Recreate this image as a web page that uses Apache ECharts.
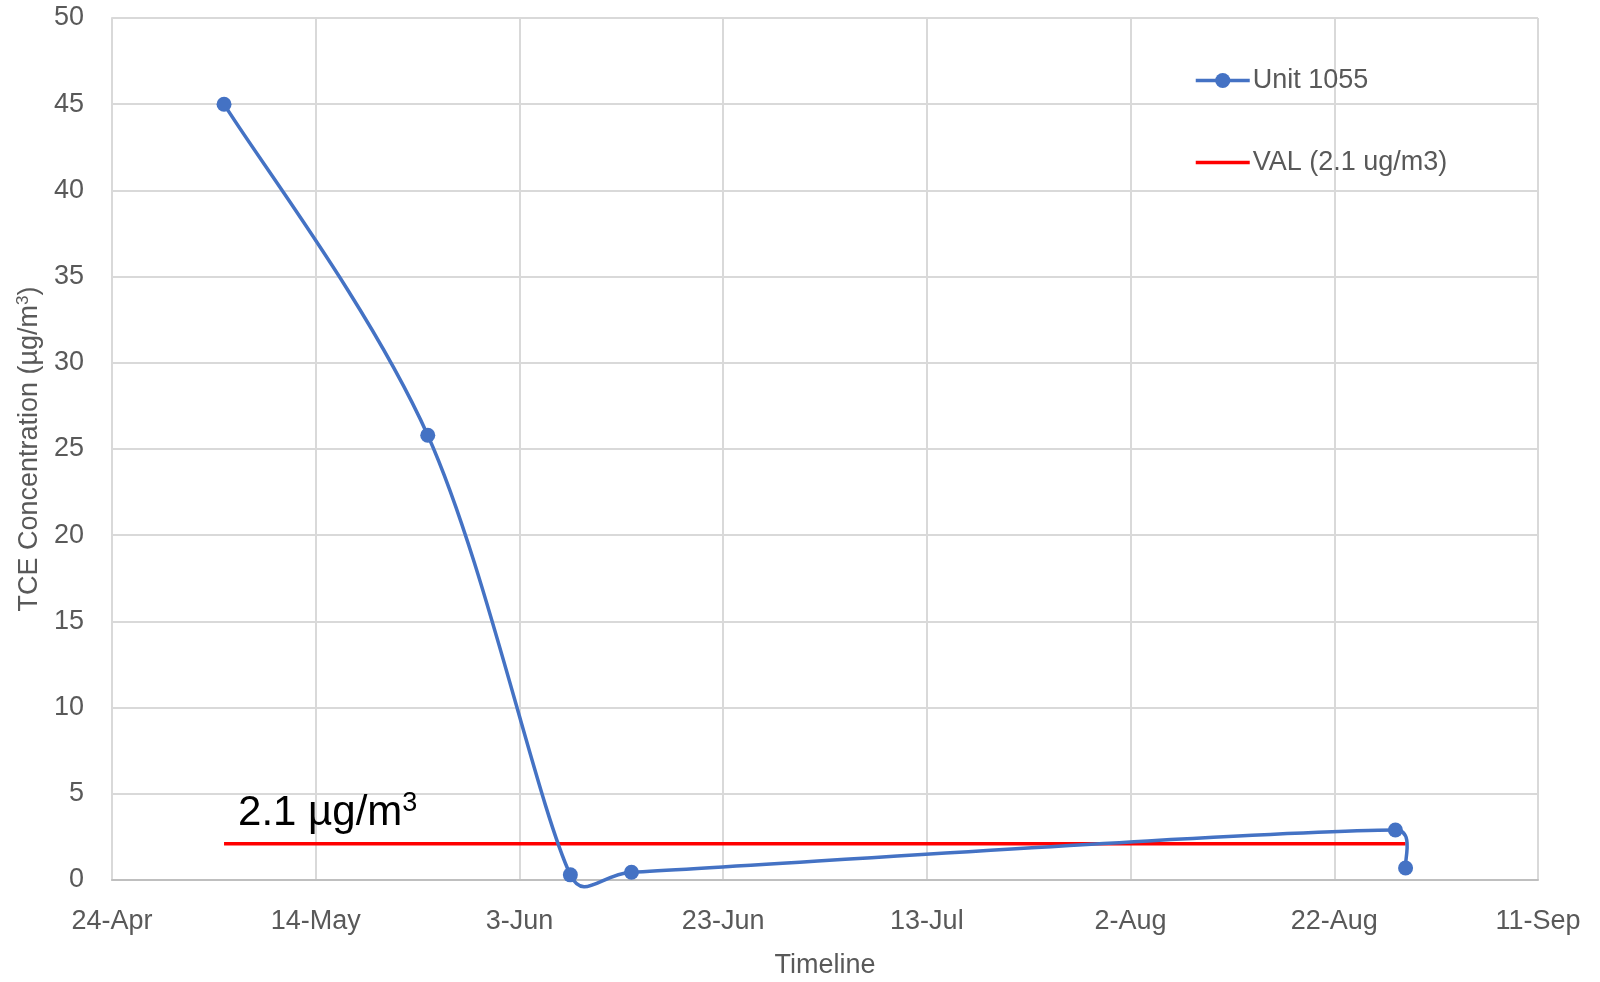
<!DOCTYPE html>
<html>
<head>
<meta charset="utf-8">
<script src="https://cdn.jsdelivr.net/npm/echarts@6/dist/echarts.min.js"></script>
<style>
  html, body { margin: 0; padding: 0; background: #fff; }
  #chart { width: 1600px; height: 982px; }
</style>
</head>
<body>
<div id="chart"></div>
<script>
// Sampling dates and TCE concentrations for Unit 1055
const sampleDates = ['2019-05-05', '2019-05-25', '2019-06-08', '2019-06-14', '2019-08-28', '2019-08-29'];
const unitValues = [45, 25.8, 0.3, 0.45, 2.9, 0.7];

// Vapour action level (VAL) reference line
const valDates = ['2019-05-05', '2019-08-29'];
const valLevel = 2.1;

// Timeline axis: days counted from its start date, ticks every 20 days
const axisStart = '2019-04-24';
const axisSpanDays = 140;
const tickStepDays = 20;
const monthNames = ['Jan', 'Feb', 'Mar', 'Apr', 'May', 'Jun', 'Jul', 'Aug', 'Sep', 'Oct', 'Nov', 'Dec'];

const DAY = 86400000;
const startMs = Date.parse(axisStart + 'T00:00:00Z');
const toDay = d => Math.round((Date.parse(d + 'T00:00:00Z') - startMs) / DAY);
const dayLabel = n => {
  const dt = new Date(startMs + n * DAY);
  return dt.getUTCDate() + '-' + monthNames[dt.getUTCMonth()];
};

const unitData = sampleDates.map((d, i) => [toDay(d), unitValues[i]]);
const valData = valDates.map(d => [toDay(d), valLevel]);

const sans = "'Liberation Sans', Arial, sans-serif";
const textGray = '#595959';
const gridGray = '#D9D9D9';
const blue = '#4472C4';
const labelSize = 27;

// Spreadsheet-style smoothed path: cubic Bezier segments whose tangents follow
// the neighbouring points, with each handle capped at half of its segment.
function smoothPath(pts) {
  const dist = (a, b) => Math.hypot(b[0] - a[0], b[1] - a[1]);
  let d = 'M' + pts[0][0] + ' ' + pts[0][1];
  for (let i = 0; i < pts.length - 1; i++) {
    const p0 = pts[i - 1] || pts[i];
    const p1 = pts[i];
    const p2 = pts[i + 1];
    const p3 = pts[i + 2] || pts[i + 1];
    const seg = dist(p1, p2);
    const t1 = [p2[0] - p0[0], p2[1] - p0[1]];
    const t2 = [p3[0] - p1[0], p3[1] - p1[1]];
    const l1 = Math.hypot(t1[0], t1[1]) || 1;
    const l2 = Math.hypot(t2[0], t2[1]) || 1;
    const s1 = Math.min(l1 / 6, seg / 2) / l1;
    const s2 = Math.min(l2 / 6, seg / 2) / l2;
    const c1 = [p1[0] + t1[0] * s1, p1[1] + t1[1] * s1];
    const c2 = [p2[0] - t2[0] * s2, p2[1] - t2[1] * s2];
    d += ' C' + c1[0] + ' ' + c1[1] + ' ' + c2[0] + ' ' + c2[1] + ' ' + p2[0] + ' ' + p2[1];
  }
  return d;
}

const chart = echarts.init(document.getElementById('chart'));
chart.setOption({
  backgroundColor: '#ffffff',
  animation: false,
  grid: { left: 112, right: 62, top: 18, bottom: 102, outerBoundsMode: 'none' },
  legend: {
    orient: 'vertical',
    left: 1189,
    top: 62,
    itemWidth: 54,
    itemHeight: 19,
    itemGap: 55,
    textStyle: { fontFamily: sans, fontSize: labelSize, color: textGray, padding: [0, 0, 0, -2] },
    data: [
      { name: 'Unit 1055', lineStyle: { opacity: 1, width: 3.5, color: blue } },
      { name: 'VAL (2.1 ug/m3)', itemStyle: { opacity: 0 }, lineStyle: { width: 3.5 } }
    ]
  },
  xAxis: {
    type: 'value',
    min: 0,
    max: axisSpanDays,
    interval: tickStepDays,
    name: 'Timeline',
    nameLocation: 'middle',
    nameGap: 72,
    nameTextStyle: { fontFamily: sans, fontSize: labelSize, color: textGray },
    axisLine: { show: true, lineStyle: { color: '#BFBFBF', width: 2 } },
    axisTick: { show: false },
    axisLabel: {
      fontFamily: sans, fontSize: labelSize, color: textGray, margin: 28,
      formatter: v => dayLabel(v)
    },
    splitLine: { show: true, lineStyle: { color: gridGray, width: 2 } }
  },
  yAxis: {
    type: 'value',
    min: 0,
    max: 50,
    interval: 5,
    name: '{t|TCE Concentration (µg/m}{s|3}{t|)}',
    nameLocation: 'middle',
    nameGap: 64,
    nameTextStyle: {
      rich: {
        t: { fontFamily: sans, fontSize: labelSize, color: textGray },
        s: { fontFamily: sans, fontSize: 17, color: textGray, verticalAlign: 'top', padding: [0, 0, 12, 0] }
      }
    },
    axisLine: { show: true, lineStyle: { color: gridGray, width: 2 } },
    axisTick: { show: false },
    axisLabel: { fontFamily: sans, fontSize: labelSize, color: textGray, margin: 28 },
    splitLine: { show: true, lineStyle: { color: gridGray, width: 2 } }
  },
  series: [
    {
      // smoothed curve through the Unit 1055 samples
      name: 'Unit 1055 curve',
      type: 'custom',
      data: unitData,
      encode: { x: 0, y: 1 },
      silent: true,
      z: 3,
      renderItem: (params, api) => {
        if (params.dataIndexInside !== 0) return null;
        const pts = unitData.map(p => api.coord(p));
        return {
          type: 'path',
          shape: { pathData: smoothPath(pts) },
          style: { fill: 'none', stroke: blue, lineWidth: 3.5, lineJoin: 'round', lineCap: 'round' }
        };
      }
    },
    {
      // sample markers
      name: 'Unit 1055',
      type: 'line',
      data: unitData,
      symbol: 'circle',
      symbolSize: 15,
      lineStyle: { opacity: 0 },
      itemStyle: { color: blue },
      z: 4
    },
    {
      name: 'VAL (2.1 ug/m3)',
      type: 'line',
      data: valData,
      symbol: 'none',
      lineStyle: { color: '#FF0000', width: 3.5 },
      itemStyle: { color: '#FF0000' },
      z: 2,
      markPoint: {
        symbol: 'circle',
        symbolSize: 0,
        silent: true,
        data: [{
          coord: valData[0],
          label: {
            show: true,
            position: 'top',
            align: 'left',
            offset: [14, -2],
            formatter: '{a|' + valLevel + ' µg/m}{b|3}',
            rich: {
              a: { fontFamily: sans, fontSize: 42, color: '#000000' },
              b: { fontFamily: sans, fontSize: 27, color: '#000000', verticalAlign: 'top', padding: [0, 0, 20, 0] }
            }
          }
        }]
      }
    }
  ]
});
</script>
</body>
</html>
